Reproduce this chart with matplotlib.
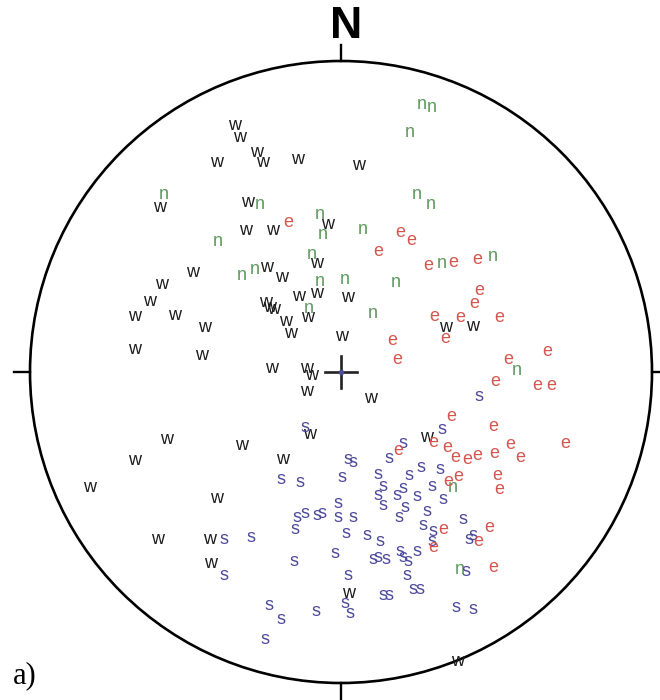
import matplotlib
matplotlib.use("Agg")
import matplotlib.pyplot as plt
from matplotlib.patches import Circle

NET_RADIUS = 311.0

w_east = [-106, -101, -84, -78, -124, -43, 18, -181, -93, -95, -68, -13,
          -148, -74, -59, -24, -179, -191, -206, -166, -136, -206, -139,
          -42, -24, 7, -75, -71, -67, -55, -50, -33, 1, 105, 132,
          -69, -34, -29, -34, 30, -31, -99, -58, -174, -206, 86,
          -251, -124, -183, -131, -130, 8, 117]
w_north = [249, 237, 222, 212, 212, 215, 209, 167, 172, 144, 144, 150,
           102, 107, 97, 111, 90, 73, 58, 59, 47, 25, 19,
           78, 81, 77, 72, 67, 65, 53, 41, 57, 38, 47, 48,
           6, 6, -1, -17, -24, -60, -71, -85, -65, -86, -63,
           -113, -124, -165, -166, -190, -219, -287]

n_east = [81, 91, 69, 76, 90, -177, -81, -123, -21, -18, 22, -99, -86,
          -29, -21, 4, 55, -32, 32, 101, 152, 176, 112, 119]
n_north = [270, 267, 242, 180, 170, 180, 170, 133, 160, 140, 145, 99, 105,
           120, 93, 95, 92, 66, 61, 111, 118, 4, -113, -195]

e_east = [-53, 59, 70, 37, 87, 112, 136, 138, 133, 93, 119, 158, 104,
          51, 56, 206, 167, 154, 196, 210, 110, 152, 92, 106, 114, 126,
          136, 153, 169, 179, 224, 57, 107, 117, 156, 158, 148, 102, 92,
          137, 152]
e_north = [152, 142, 134, 123, 109, 112, 115, 84, 71, 58, 57, 57, 36,
           34, 15, 23, 15, -7, -11, -11, -42, -52, -68, -73, -83, -85,
           -81, -79, -70, -83, -69, -76, -107, -102, -101, -116, -153, -156,
           -173, -168, -193]

s_east = [-36, 101, 138, 62, 48, 7, 12, 1, 37, 68, 80, 99, -60, -41,
          42, 37, 56, 62, 76, 91, 102, -3, 42, 64, 86, -44, -36, -24, -19,
          -3, 12, 58, 122, -46, 5, 26, 39, 82, 92, 91, 128, 132, -117, -90,
          -117, -6, -47, 32, 37, 45, 59, 62, 67, 76, 66, 7, 125, 42, 48,
          72, 79, 4, 9, -72, -60, -25, -76, 115, 132]
s_north = [-53, -55, -22, -69, -84, -85, -88, -104, -100, -101, -93, -95,
           -106, -108, -112, -121, -121, -114, -122, -112, -126, -130, -131,
           -133, -138, -143, -140, -141, -139, -144, -144, -144, -145, -155,
           -159, -162, -167, -152, -158, -168, -166, -162, -166, -163, -202,
           -179, -187, -185, -184, -186, -178, -184, -188, -177, -202, -202,
           -197, -222, -221, -215, -215, -229, -239, -232, -245, -238, -266,
           -234, -235]

groups = [
    ("w", w_east, w_north, "#1c1c1c"),
    ("n", n_east, n_north, "#5d9a5d"),
    ("s", s_east, s_north, "#4c4a9a"),
    ("e", e_east, e_north, "#d4564f"),
]

fig = plt.figure(figsize=(6.6, 7.0), dpi=100)
ax = fig.add_axes([0, 0, 1, 1])

# net frame: image is 660 x 700 px, centre of net at (341, 372)
ax.set_xlim(-341 / NET_RADIUS, 319 / NET_RADIUS)
ax.set_ylim(-328 / NET_RADIUS, 372 / NET_RADIUS)
ax.set_aspect("equal")
ax.axis("off")

ax.add_patch(Circle((0, 0), 1.0, fill=False, lw=1.9, color="black"))
tick = 0.05
ax.plot([0, 0], [1, 1 + tick], color="black", lw=1.7)
ax.plot([0, 0], [-1, -1 - tick], color="black", lw=1.7)
ax.plot([-1, -1 - tick], [0, 0], color="black", lw=1.7)
ax.plot([1, 1 + tick], [0, 0], color="black", lw=1.7)

# centre cross
arm = 0.05
ax.plot([-arm, arm], [0, 0], color="#222222", lw=1.9)
ax.plot([0, 0], [-arm, arm], color="#222222", lw=1.9)
ax.plot([0], [0], "o", color="#4c4a9a", ms=3)

for letter, east, north, col in groups:
    for x, y in zip(east, north):
        ax.text(x / NET_RADIUS, y / NET_RADIUS, letter, color=col,
                fontsize=13, family="Liberation Sans",
                ha="center", va="center_baseline")

ax.text(0.016, 1.11, "N", fontsize=32, fontweight="bold",
        family="Liberation Sans", ha="center", va="center")
ax.text(-1.055, -0.975, "a)", fontsize=22, family="Liberation Serif",
        ha="left", va="center")

fig.savefig("out.png", dpi=100)
